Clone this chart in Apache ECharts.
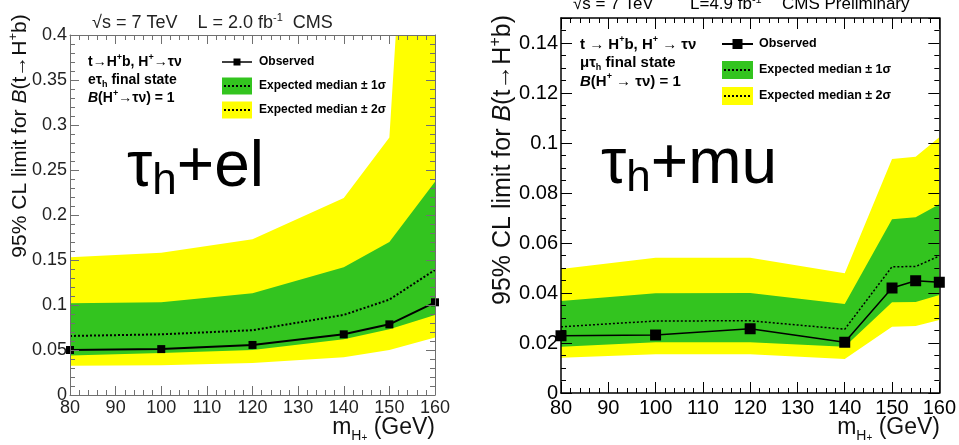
<!DOCTYPE html>
<html>
<head>
<meta charset="utf-8">
<script src="https://cdn.jsdelivr.net/npm/echarts@6/dist/echarts.min.js"></script>
<style>
  html, body { margin: 0; padding: 0; background: #fff; }
  #chart { width: 959px; height: 445px; }
</style>
</head>
<body>
<div id="chart"></div>
<script>
// ---- tau_h + electron channel (2.0 fb^-1) ----
const massEl = [80, 100, 120, 140, 150, 160];
const observedEl = [0.050, 0.051, 0.0556, 0.0674, 0.0785, 0.103];
const expectedEl = [0.0656, 0.0674, 0.072, 0.089, 0.106, 0.139];
const oneSigmaLoEl = [0.044, 0.0467, 0.050, 0.062, 0.073, 0.089];
const oneSigmaHiEl = [0.102, 0.103, 0.113, 0.142, 0.170, 0.237];
const twoSigmaLoEl = [0.0326, 0.033, 0.0356, 0.042, 0.050, 0.064];
const twoSigmaHiEl = [0.153, 0.158, 0.173, 0.219, 0.286, 1.1];

// ---- tau_h + muon channel (4.9 fb^-1) ----
const massMu = [80, 100, 120, 140, 150, 155, 160];
const observedMu = [0.0229, 0.0232, 0.0257, 0.0203, 0.042, 0.0449, 0.0443];
const expectedMu = [0.0265, 0.0288, 0.0289, 0.0255, 0.0505, 0.0506, 0.0548];
const oneSigmaLoMu = [0.0185, 0.0203, 0.0203, 0.0185, 0.0363, 0.0364, 0.0392];
const oneSigmaHiMu = [0.0368, 0.0399, 0.040, 0.0356, 0.0695, 0.0703, 0.0755];
const twoSigmaLoMu = [0.0141, 0.0155, 0.0155, 0.0136, 0.0265, 0.0268, 0.0292];
const twoSigmaHiMu = [0.0496, 0.0541, 0.0541, 0.0479, 0.0936, 0.0945, 0.1023];

// axis ranges / ticks
const xRange = [80, 160, 10];
const yRangeEl = [0, 0.4, 0.05];
const yRangeMu = [0, 0.15, 0.02];

const FONT = '"Liberation Sans", Arial, Helvetica, sans-serif';
const GREEN = '#33c41f';
const YELLOW = '#ffff00';

const pairs = (xs, ys) => xs.map((x, i) => [x, ys[i]]);

// filled band between a lower and an upper curve, clipped to the plot frame
function bandSeries(idx, xs, lo, hi, color, z) {
  return {
    type: 'custom', xAxisIndex: idx * 2, yAxisIndex: idx * 2, silent: true, z: z,
    clip: true,
    data: [[xs[0], lo[0]]],
    renderItem: function (params, api) {
      const pts = [];
      xs.forEach((x, i) => pts.push(api.coord([x, hi[i]])));
      for (let i = xs.length - 1; i >= 0; i--) pts.push(api.coord([xs[i], lo[i]]));
      const cs = params.coordSys;
      return {
        type: 'polygon',
        shape: { points: pts },
        style: { fill: color, stroke: null },
        clipPath: { type: 'rect', shape: { x: cs.x, y: cs.y, width: cs.width, height: cs.height } }
      };
    }
  };
}

function lineSeries(idx, xs, exp, obs, opt) {
  return [
    {
      type: 'line', xAxisIndex: idx * 2, yAxisIndex: idx * 2, data: pairs(xs, exp),
      symbol: 'none', lineStyle: { color: '#000', width: opt.dotW, type: [2, 2] }, z: 3, silent: true
    },
    {
      type: 'line', xAxisIndex: idx * 2, yAxisIndex: idx * 2, data: pairs(xs, obs),
      symbol: 'rect', symbolSize: opt.mark, itemStyle: { color: '#000' },
      lineStyle: { color: '#000', width: opt.lineW }, z: 4, silent: true
    }
  ];
}

function axes(idx, yr, o) {
  const line = { show: true, onZero: false, lineStyle: { color: o.frame, width: o.frameW } };
  const tick = { show: true, inside: true, length: o.major, lineStyle: { color: o.frame, width: 1 } };
  const minorX = { show: true, splitNumber: 5, length: o.minor, lineStyle: { color: o.frame, width: 1 } };
  const minorY = { show: true, splitNumber: o.ySplit, length: o.minor, lineStyle: { color: o.frame, width: 1 } };
  const lab = { color: o.text, fontFamily: FONT, fontSize: o.labSize };
  const base = { type: 'value', gridIndex: idx, splitLine: { show: false }, axisLine: line, axisTick: tick, z: 10 };
  const xa = Object.assign({}, base, { min: xRange[0], max: xRange[1], interval: xRange[2], minorTick: minorX });
  const ya = Object.assign({}, base, { min: yr[0], max: yr[1], interval: yr[2], minorTick: minorY });
  return {
    x: [
      Object.assign({}, xa, { position: 'bottom', axisLabel: Object.assign({ margin: o.xMargin }, lab) }),
      Object.assign({}, xa, { position: 'top', axisLabel: { show: false } })
    ],
    y: [
      Object.assign({}, ya, { position: 'left', axisLabel: Object.assign({ margin: 3, showMaxLabel: o.showMax }, lab) }),
      Object.assign({}, ya, { position: 'right', axisLabel: { show: false } })
    ]
  };
}

const axEl = axes(0, yRangeEl, { frame: '#707070', frameW: 1, major: 9, minor: 5, ySplit: 5, text: '#222', labSize: 18, xMargin: 4, showMax: true });
const axMu = axes(1, yRangeMu, { frame: '#000', frameW: 1.5, major: 11, minor: 5, ySplit: 4, text: '#000', labSize: 20, xMargin: 5, showMax: false });

// ---- text helpers ----
function txt(x, y, rich, styles, extra) {
  return {
    type: 'text', x: x, y: y, z: 50,
    style: Object.assign({ rich: styles, text: rich, fontFamily: FONT, fill: '#000', verticalAlign: 'middle' }, extra || {})
  };
}

function richSet(size, bold, lh) {
  const fw = bold ? 'bold' : 'normal';
  return {
    n: { fontSize: size, fontWeight: fw, fontFamily: FONT, lineHeight: lh },
    i: { fontSize: size, fontWeight: fw, fontStyle: 'italic', fontFamily: FONT, lineHeight: lh },
    sup: { fontSize: Math.round(size * 0.62), fontWeight: fw, fontFamily: FONT, verticalAlign: 'top', lineHeight: Math.round(size * 0.62) },
    sub: { fontSize: Math.round(size * 0.62), fontWeight: fw, fontFamily: FONT, verticalAlign: 'bottom', lineHeight: Math.round(size * 0.62) }
  };
}

function legendBlock(o) {
  const g = [];
  const ds = richSet(o.descSize, true, o.descSize + 4);
  const rs = richSet(o.size, true, o.size + 4);
  // description lines
  g.push(txt(o.tx, o.rows[0], '{n|t' + o.arrow + 'H}{sup|+}{n|b, H}{sup|+}{n|' + o.arrow + 'τν}', ds));
  g.push(txt(o.tx, o.rows[1], '{n|' + o.lep + 'τ}{sub|h}{n| final state}', ds));
  g.push(txt(o.tx, o.rows[2], '{i|B}{n|(H}{sup|+}{n|' + o.arrow + 'τν) = 1}', ds));
  // observed entry
  g.push({ type: 'line', z: 50, shape: { x1: o.bx, y1: o.ly[0], x2: o.bx + o.bw, y2: o.ly[0] }, style: { stroke: '#000', lineWidth: o.lw } });
  g.push({ type: 'rect', z: 51, shape: { x: o.bx + o.bw / 2 - o.ms / 2, y: o.ly[0] - o.ms / 2, width: o.ms, height: o.ms }, style: { fill: '#000' } });
  g.push(txt(o.lx, o.ly[0], '{n|Observed}', rs));
  // expected bands
  [[GREEN, 1], [YELLOW, 2]].forEach((c, k) => {
    const cy = o.ly[k + 1];
    g.push({ type: 'rect', z: 50, shape: { x: o.bx, y: cy - o.bh / 2, width: o.bw, height: o.bh }, style: { fill: c[0] } });
    g.push({ type: 'line', z: 51, shape: { x1: o.bx + 2, y1: cy, x2: o.bx + o.bw - 2, y2: cy }, style: { stroke: '#000', lineWidth: 2, lineDash: [2, 2] } });
    g.push(txt(o.lx, cy, '{n|Expected median ± ' + c[1] + 'σ}', rs));
  });
  return g;
}

const graphics = [];

// headers
graphics.push(txt(92, 23, '{n|√s = 7 TeV    L = 2.0 fb}{sup|-1}{n|  CMS}', richSet(18, false, 22), { fill: '#222' }));
graphics.push(txt(573, 4, '{n|√s = 7 TeV}', richSet(17, false, 20)));
graphics.push(txt(690, 4, '{n|L=4.9 fb}{sup|-1}', richSet(17, false, 20)));
graphics.push(txt(782, 4, '{n|CMS Preliminary}', richSet(17, false, 20)));

// big channel labels
const bigRich = {
  n: { fontSize: 64, fontFamily: FONT, lineHeight: 72 },
  sub: { fontSize: 44, fontFamily: FONT, verticalAlign: 'bottom', lineHeight: 42 }
};
graphics.push(txt(127, 168, '{n|τ}{sub|h}{n|+el}', bigRich));
graphics.push(txt(601, 165, '{n|τ}{sub|h}{n|+mu}', bigRich));

// y-axis titles (rotated)
function yTitle(cx, cy, size) {
  const rs = richSet(size, false, size + 6);
  return {
    type: 'text', x: cx, y: cy, rotation: Math.PI / 2, z: 50,
    style: {
      text: '{n|95% CL limit for }{i|B}{n|(t→H}{sup|+}{n|b)}', rich: rs, fontFamily: FONT,
      align: 'center', verticalAlign: 'middle', fill: '#111'
    }
  };
}
graphics.push(yTitle(20, 136, 21));
graphics.push(yTitle(503, 160, 25));

// x-axis titles
function xTitle(rx, cy, size) {
  const rs = {
    n: { fontSize: size, fontFamily: FONT, lineHeight: size + 8 },
    sub: { fontSize: Math.round(size * 0.6), fontFamily: FONT, verticalAlign: 'bottom', lineHeight: Math.round(size * 0.6) },
    sup: { fontSize: Math.round(size * 0.45), fontFamily: FONT, verticalAlign: 'bottom', lineHeight: Math.round(size * 0.9) }
  };
  return {
    type: 'text', x: rx, y: cy, z: 50,
    style: { text: '{n|m}{sub|H}{sup|+}{n| (GeV)}', rich: rs, fontFamily: FONT, align: 'right', verticalAlign: 'middle', fill: '#111' }
  };
}
graphics.push(xTitle(435, 428, 23));
graphics.push(xTitle(940, 428, 23));

// legends
graphics.push.apply(graphics, legendBlock({
  descSize: 14, size: 12, tx: 88, rows: [62, 80, 98], arrow: '→', lep: 'e',
  bx: 222, bw: 30, bh: 17, lx: 259, ly: [62, 86, 110], lw: 1.5, ms: 7
}));
graphics.push.apply(graphics, legendBlock({
  descSize: 15, size: 12.5, tx: 580, rows: [45, 63, 82], arrow: ' → ', lep: 'μ',
  bx: 722, bw: 31, bh: 18, lx: 759, ly: [44, 70, 96], lw: 2, ms: 10
}));

const option = {
  animation: false,
  backgroundColor: '#fff',
  grid: [
    { left: 70, top: 35, width: 365, height: 360 },
    { left: 561, top: 18, width: 379, height: 375 }
  ],
  xAxis: axEl.x.concat(axMu.x),
  yAxis: axEl.y.concat(axMu.y),
  series: [
    bandSeries(0, massEl, twoSigmaLoEl, twoSigmaHiEl, YELLOW, 1),
    bandSeries(0, massEl, oneSigmaLoEl, oneSigmaHiEl, GREEN, 2),
    bandSeries(1, massMu, twoSigmaLoMu, twoSigmaHiMu, YELLOW, 1),
    bandSeries(1, massMu, oneSigmaLoMu, oneSigmaHiMu, GREEN, 2)
  ]
    .concat(lineSeries(0, massEl, expectedEl, observedEl, { dotW: 2, lineW: 2, mark: 8 }))
    .concat(lineSeries(1, massMu, expectedMu, observedMu, { dotW: 1.5, lineW: 1.5, mark: 11 })),
  graphic: graphics
};

const chart = echarts.init(document.getElementById('chart'), null, { renderer: 'canvas' });
chart.setOption(option);
</script>
</body>
</html>
